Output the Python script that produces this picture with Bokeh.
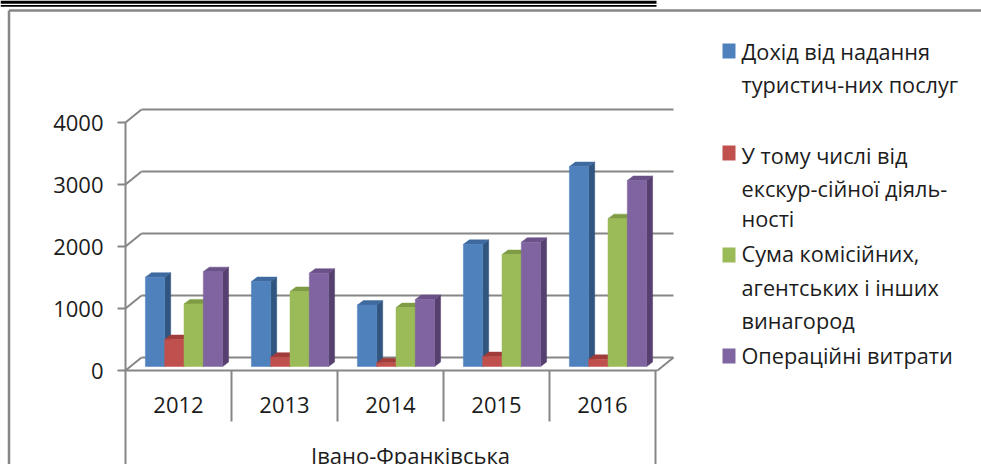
from bokeh.plotting import figure
from bokeh.models import FixedTicker
from bokeh.core.properties import value
from bokeh.embed import file_html
from bokeh.resources import INLINE

# ---- data ----
years = ["2012", "2013", "2014", "2015", "2016"]
dohid = [1440, 1370, 990, 1970, 3225]
ekskur = [435, 150, 60, 160, 115]
komis = [1010, 1210, 950, 1805, 2385]
vytraty = [1530, 1505, 1080, 2005, 3000]
y_ticks = [0, 1000, 2000, 3000, 4000]
group_label = "Івано-Франківська"

legend_lines = [["Дохід від надання", "туристич-них послуг"],
                ["У тому числі  від", "екскур-сійної діяль-", "ності"],
                ["Сума комісійних,", "агентських і інших", "винагород"],
                ["Операційні витрати"]]

# ---- styles / layout ----
W, H = 981, 464
PX_CAT, PX_X0 = 106.0, 178.0     # px per category, px of category 0
PX_VAL, PX_Y0 = 62.0 / 1000, 370.0  # px per value, px of value 0
FACE = ["#4F81BD", "#C0504D", "#9BBB59", "#8064A2"]
SIDE = ["#31557F", "#8A3533", "#6F8A3A", "#56406F"]
TOP = ["#3E6A9F", "#A03C3A", "#7F9C45", "#6A5188"]
GRID = "#868686"
FONT = "Open Sans"
TXT = "#1c1c1c"
FS = "22px"
FS_LEG = "21.7px"


def X(px):
    return (px - PX_X0) / PX_CAT


def Y(py):
    return (PX_Y0 - py) / PX_VAL


p = figure(width=W, height=H, x_range=(X(0), X(W)), y_range=(Y(H), Y(0)),
           output_backend="svg", toolbar_location=None, min_border=0,
           x_axis_location="below", y_axis_location="left",
           styles={"position": "absolute", "left": "0px", "top": "0px"})
p.outline_line_color = None
p.grid.visible = False
p.background_fill_color = "white"

# decorations at top and chart frame
p.quad(left=X(0), right=X(656), bottom=Y(3.2), top=Y(0), fill_color="black", line_color=None)
p.quad(left=X(0), right=X(656), bottom=Y(6.3), top=Y(4.5), fill_color="black", line_color=None)
p.segment(x0=[X(8.5), X(8.5)], y0=[Y(10), Y(10)], x1=[X(W), X(8.5)], y1=[Y(10), Y(H)],
          line_color=GRID, line_width=2.5)

# back wall gridlines with diagonals to the front axis
DX_WALL, DY_WALL = 16 / PX_CAT, 13 / PX_VAL
x_left = -0.5
x_right = 4.5 + 2 / PX_CAT
p.segment(x0=[x_left + DX_WALL] * 5, x1=[x_right + DX_WALL] * 5,
          y0=[v + DY_WALL for v in y_ticks], y1=[v + DY_WALL for v in y_ticks],
          line_color=GRID, line_width=2)
p.segment(x0=[x_left] * 5, x1=[x_left + DX_WALL] * 5,
          y0=y_ticks, y1=[v + DY_WALL for v in y_ticks],
          line_color=GRID, line_width=2)
p.segment(x0=[x_right], x1=[x_right + DX_WALL], y0=[0], y1=[DY_WALL],
          line_color=GRID, line_width=2)

# category separators
seps = [i - 0.5 for i in range(6)]
p.segment(x0=seps[1:-1], x1=seps[1:-1], y0=[0] * 4, y1=[Y(421)] * 4, line_color=GRID, line_width=2)
p.segment(x0=[seps[0], seps[-1]], x1=[seps[0], seps[-1]], y0=[0, 0], y1=[Y(H)] * 2,
          line_color=GRID, line_width=2)

# 3-D bars
BAR_W = 19.3 / PX_CAT
GROUP_SHIFT = 5.5 / PX_CAT
BASE = 4 / PX_VAL
DX, DY = 6 / PX_CAT, 4.5 / PX_VAL
all_series = [dohid, ekskur, komis, vytraty]
for i, vals in enumerate(all_series):
    for c, v in enumerate(vals):
        x0 = c + GROUP_SHIFT + (i - 2) * BAR_W
        x1 = x0 + BAR_W
        y0, y1 = BASE, BASE + v
        p.patch([x1, x1 + DX, x1 + DX, x1], [y0, y0 + DY, y1 + DY, y1], color=SIDE[i], line_width=0.5)
        p.patch([x0, x0 + DX, x1 + DX, x1], [y1, y1 + DY, y1 + DY, y1], color=TOP[i], line_width=0.5)
        p.vbar(x=[(x0 + x1) / 2], width=BAR_W, bottom=y0, top=y1, color=FACE[i], line_width=0.5)

# axes placed at fixed locations inside the full-page frame
p.yaxis.fixed_location = x_left
p.yaxis.bounds = (0, 4000)
p.yaxis.ticker = FixedTicker(ticks=y_ticks)
p.yaxis.axis_line_color = GRID
p.yaxis.axis_line_width = 2
p.yaxis.major_tick_line_color = GRID
p.yaxis.major_tick_line_width = 2
p.yaxis.major_tick_out = 8
p.yaxis.major_tick_in = 0
p.yaxis.minor_tick_line_color = None
p.yaxis.major_label_standoff = 14
p.yaxis.major_label_text_font = FONT
p.yaxis.major_label_text_font_size = FS
p.yaxis.major_label_text_color = TXT

p.xaxis.fixed_location = 0
p.xaxis.bounds = (x_left, x_right)
p.xaxis.ticker = FixedTicker(ticks=list(range(5)))
p.xaxis.major_label_overrides = {i: y for i, y in enumerate(years)}
p.xaxis.axis_line_color = GRID
p.xaxis.axis_line_width = 2
p.xaxis.major_tick_line_color = None
p.xaxis.minor_tick_line_color = None
p.xaxis.major_label_standoff = 20
p.xaxis.major_label_text_font = FONT
p.xaxis.major_label_text_font_size = FS
p.xaxis.major_label_text_color = TXT

p.text(x=[X(410)], y=[Y(454.5)], text=[group_label], text_font=value(FONT), text_font_size=value(FS),
       text_color=TXT, text_align="center", text_baseline="middle")

# legend
line_y = [[50.5, 83.5], [154.5, 187.5, 217.5], [252.5, 286.5, 319.5], [354.5]]
sq_y = [50.5, 152.5, 254.5, 355.5]
for i, lines in enumerate(legend_lines):
    p.quad(left=X(722), right=X(735), top=Y(sq_y[i] - 7.5), bottom=Y(sq_y[i] + 7.5),
           fill_color=FACE[i], line_color=None)
    p.text(x=[X(741)] * len(lines), y=[Y(v) for v in line_y[i]], text=lines,
           text_font=value(FONT), text_font_size=value(FS_LEG), text_color=TXT,
           text_align="left", text_baseline="middle")

open("out.html", "w").write(file_html(p, INLINE))
